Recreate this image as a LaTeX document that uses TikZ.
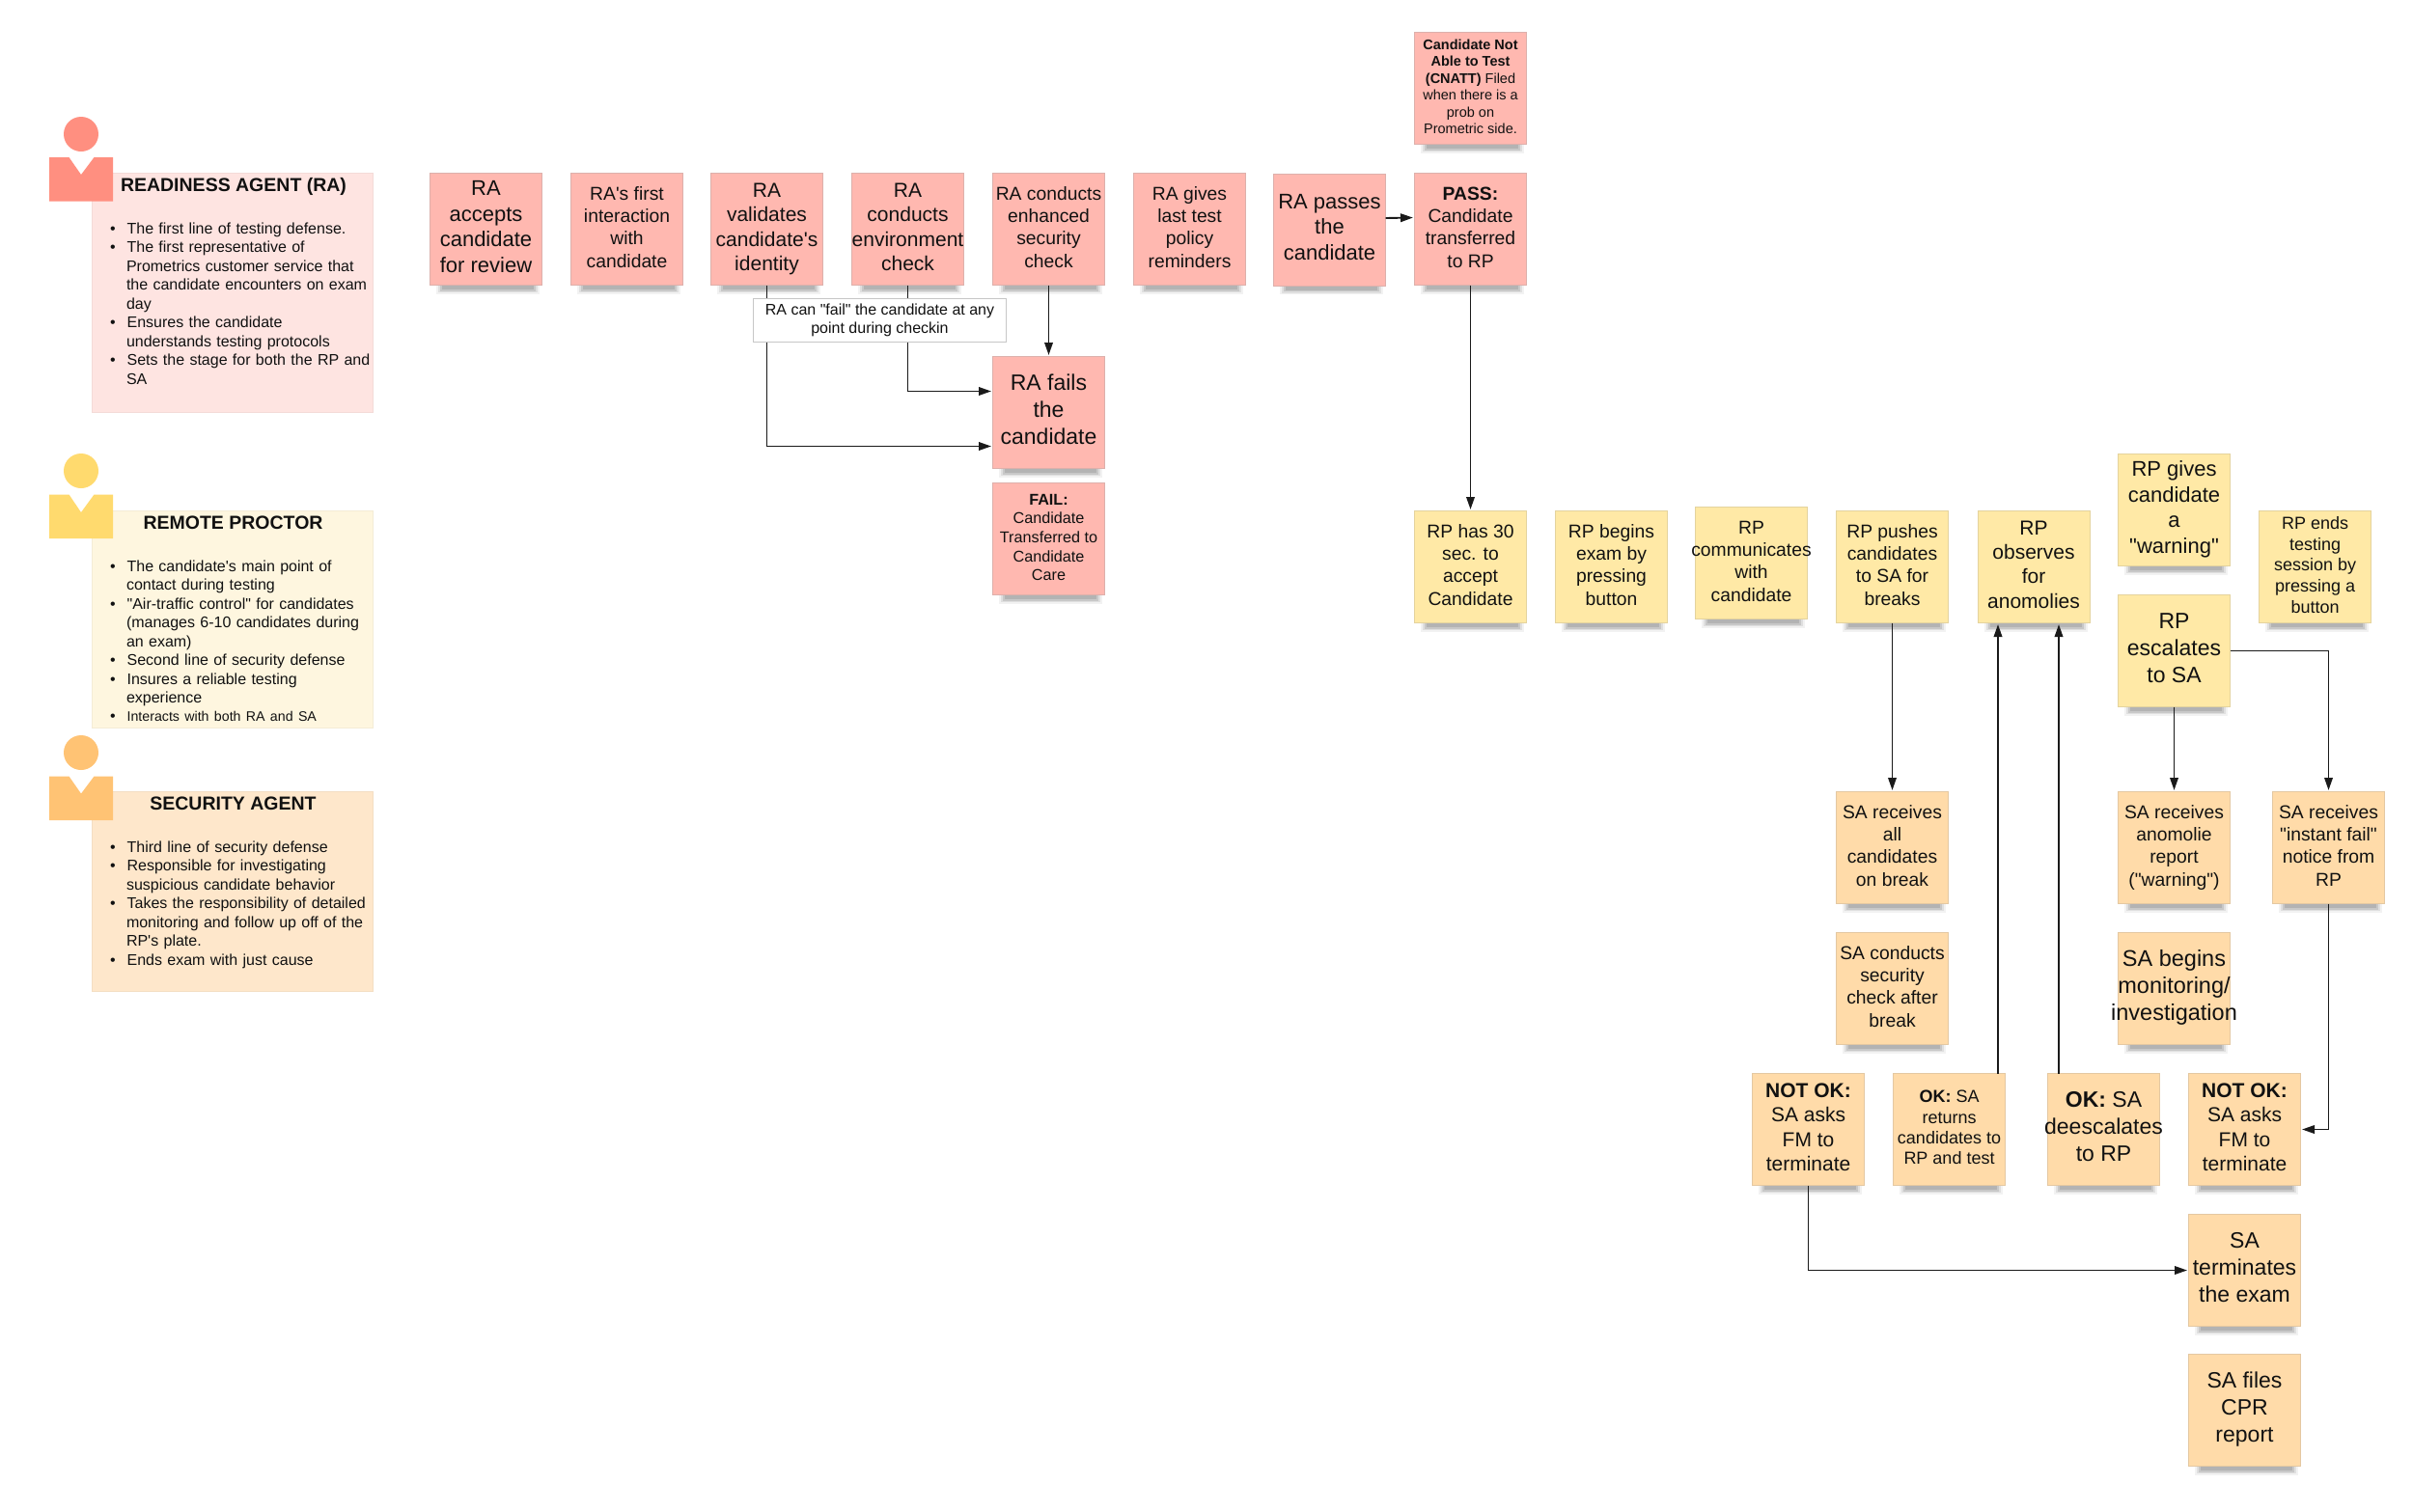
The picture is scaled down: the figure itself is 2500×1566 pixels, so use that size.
\documentclass[tikz,border=0pt]{standalone}
\usepackage{fontspec}
\setmainfont{Liberation Sans}[Ligatures=TeXOff]
\usetikzlibrary{arrows.meta}
\definecolor{redfill}{HTML}{FFB8B0}
\definecolor{redline}{HTML}{DDB0AB}
\definecolor{yelfill}{HTML}{FFE9A6}
\definecolor{yelline}{HTML}{E4D39E}
\definecolor{orafill}{HTML}{FFDBA9}
\definecolor{oraline}{HTML}{E4C8A2}
\definecolor{raicon}{HTML}{FF8F80}
\definecolor{rabox}{HTML}{FEE4E1}
\definecolor{rpicon}{HTML}{FFDA6E}
\definecolor{rpbox}{HTML}{FEF6DF}
\definecolor{saicon}{HTML}{FFC374}
\definecolor{sabox}{HTML}{FEE7CB}
\definecolor{ink}{HTML}{111111}
\definecolor{wire}{HTML}{1A1A1A}
\tikzset{
  stickybox/.style={rectangle,minimum width=116,minimum height=116,inner sep=0,outer sep=0,line width=1pt,text=ink},
  redsticky/.style={stickybox,fill=redfill,draw=redline},
  yelsticky/.style={stickybox,fill=yelfill,draw=yelline},
  orasticky/.style={stickybox,fill=orafill,draw=oraline},
  wirearrow/.style={draw=wire,line width=1.9pt,-{Triangle[length=13pt,width=8.5pt]},shorten >=1.5pt},
  personabox/.style={rectangle,minimum width=291.5,inner sep=0,outer sep=0,line width=.8pt},
  personatitle/.style={inner sep=0,outer sep=0,text=ink,font=\fontsize{19.5}{23}\selectfont\bfseries},
  personalist/.style={anchor=north west,inner sep=0,outer sep=0,text width=272pt,text=ink,font=\fontsize{16}{19.45}\selectfont},
  head/.style={circle,minimum size=36,inner sep=0,outer sep=0},
  notelabel/.style={rectangle,fill=white,draw=black!22,line width=1pt,minimum width=262.5,minimum height=45.5,inner sep=0,outer sep=0,align=center,text=ink,font=\fontsize{16}{19.7}\selectfont},
}
\newenvironment{pbul}{\begin{list}{\textbullet}{\setlength\leftmargin{17pt}\setlength\labelwidth{5pt}\setlength\labelsep{12pt}\setlength\itemsep{0pt}\setlength\parsep{0pt}\setlength\topsep{0pt}\setlength\partopsep{0pt}\setlength\parskip{0pt}\setlength\itemindent{0pt}}\raggedright}{\end{list}}
% name, style, left, top, font size, line spacing, text
\newcommand\sticky[7]{%
  \fill[black,opacity=.05] ({#3+7},{#4+110}) rectangle ({#3+114},{#4+125.5});
  \fill[black,opacity=.08] ({#3+9},{#4+110}) rectangle ({#3+112},{#4+124});
  \fill[black,opacity=.10] ({#3+11},{#4+110}) rectangle ({#3+110},{#4+122.5});
  \fill[black,opacity=.10] ({#3+13},{#4+110}) rectangle ({#3+108},{#4+121});
  \pgfmathsetmacro\stickyraise{2*max(0,(#5-19.3)*0.15)}%
  \node[#2] (#1) at ({#3+58.5},{#4+58.5}) {\fontsize{#5}{#6}\selectfont\raisebox{0pt}[\height][\dimexpr\depth+\stickyraise pt\relax]{\makebox[0pt]{\begin{tabular}{@{}c@{}}#7\end{tabular}}}};
}
\newcommand\bodyicon[3]{% colour, top, notch apex
  \fill[#1] (51,#2) -- (71.5,#2) -- (84,#3) -- (97.5,#2) -- (117,#2) -- (117,{#2+45.5}) -- (51,{#2+45.5}) -- cycle;
}
\begin{document}
\begin{tikzpicture}[x=1pt,y=-1pt]
\useasboundingbox (0,0) rectangle (2500,1566);
\fill[white] (0,0) rectangle (2500,1566);

% personas
\node[personabox,fill=rabox,draw=rabox!96!black,minimum height=248.5] (raBox) at (241,303.5) {};
\node[head,fill=raicon] (raHead) at (84,139) {};
\bodyicon{raicon}{163}{181}
\node[personatitle,anchor=west] (raTitle) at (125,193) {READINESS AGENT (RA)};
\node[personalist] (raList) at (114,223) {\begin{pbul}
\item The first line of testing defense.
\item The first representative of\\Prometrics customer service that\\the candidate encounters on exam\\day
\item Ensures the candidate\\understands testing protocols
\item Sets the stage for both the RP and\\SA
\end{pbul}};

\node[personabox,fill=rpbox,draw=rpbox!96!black,minimum height=225.5] (rpBox) at (241,642) {};
\node[head,fill=rpicon] (rpHead) at (84,488) {};
\bodyicon{rpicon}{512.5}{531}
\node[personatitle] (rpTitle) at (241.5,542) {REMOTE PROCTOR};
\node[personalist] (rpList) at (114,573) {\begin{pbul}
\item The candidate's main point of\\contact during testing
\item "Air-traffic control" for candidates\\(manages 6-10 candidates during\\an exam)
\item Second line of security defense
\item Insures a reliable testing\\experience
\item {\fontsize{14.2}{18.7}\selectfont Interacts with both RA and SA\par}
\end{pbul}};

\node[personabox,fill=sabox,draw=sabox!96!black,minimum height=207.5] (saBox) at (241,924) {};
\node[head,fill=saicon] (saHead) at (84,780) {};
\bodyicon{saicon}{804.5}{822.5}
\node[personatitle] (saTitle) at (241.5,833) {SECURITY AGENT};
\node[personalist] (saList) at (114,864) {\begin{pbul}
\item Third line of security defense
\item Responsible for investigating\\suspicious candidate behavior
\item Takes the responsibility of detailed\\monitoring and follow up off of the\\RP's plate.
\item Ends exam with just cause
\end{pbul}};

% RA row
\sticky{accepts}{redsticky}{445}{179}{22}{26.6}{RA\\accepts\\candidate\\for review}
\sticky{first}{redsticky}{591}{179}{19.3}{23.3}{RA's first\\interaction\\with\\candidate}
\sticky{validates}{redsticky}{736}{179}{21}{25.5}{RA\\validates\\candidate's\\identity}
\sticky{environ}{redsticky}{882}{179}{21}{25.5}{RA\\conducts\\environment\\check}
\sticky{enhanced}{redsticky}{1028}{179}{19.3}{23.3}{RA conducts\\enhanced\\security\\check}
\sticky{policy}{redsticky}{1174}{179}{19.3}{23.3}{RA gives\\last test\\policy\\reminders}
\sticky{passes}{redsticky}{1319}{179.5}{22}{26.3}{RA passes\\the\\candidate}
\sticky{pass}{redsticky}{1465}{179}{19.3}{23.3}{\textbf{PASS:}\\Candidate\\transferred\\to RP}
\sticky{cnatt}{redsticky}{1465}{33}{14.5}{17.5}{\textbf{Candidate Not}\\\textbf{Able to Test}\\\textbf{(CNATT)} Filed\\when there is a\\prob on\\Prometric side.}
\sticky{fails}{redsticky}{1028}{369}{23}{28}{RA fails\\the\\candidate}
\sticky{failnote}{redsticky}{1028}{500}{16.2}{19.6}{\textbf{FAIL:}\\Candidate\\Transferred to\\Candidate\\Care}

% RP row
\sticky{rpaccept}{yelsticky}{1465}{529}{19.3}{23.3}{RP has 30\\sec. to\\accept\\Candidate}
\sticky{rpbegin}{yelsticky}{1611}{529}{19.3}{23.3}{RP begins\\exam by\\pressing\\button}
\sticky{rpcomm}{yelsticky}{1756}{525}{19.3}{23.3}{RP\\communicates\\with\\candidate}
\sticky{rppush}{yelsticky}{1902}{529}{19.3}{23.3}{RP pushes\\candidates\\to SA for\\breaks}
\sticky{rpobs}{yelsticky}{2048.5}{529}{21}{25.3}{RP\\observes\\for\\anomolies}
\sticky{rpwarn}{yelsticky}{2194}{470}{22}{26.6}{RP gives\\candidate\\a\\"warning"}
\sticky{rpesc}{yelsticky}{2194}{616}{23}{28}{RP\\escalates\\to SA}
\sticky{rpend}{yelsticky}{2340}{529}{18}{21.6}{RP ends\\testing\\session by\\pressing a\\button}

% SA
\sticky{saall}{orasticky}{1902}{820}{19.3}{23.3}{SA receives\\all\\candidates\\on break}
\sticky{sacheck}{orasticky}{1902}{966}{19.3}{23.3}{SA conducts\\security\\check after\\break}
\sticky{saanom}{orasticky}{2194}{820}{19.3}{23.3}{SA receives\\anomolie\\report\\("warning")}
\sticky{sainst}{orasticky}{2354}{820}{19.3}{23.3}{SA receives\\"instant fail"\\notice from\\RP}
\sticky{samon}{orasticky}{2194}{966}{23.5}{28}{SA begins\\monitoring/\\investigation}
\sticky{nokl}{orasticky}{1815}{1112}{21}{25.5}{\textbf{NOT OK:}\\SA asks\\FM to\\terminate}
\sticky{okret}{orasticky}{1961}{1112}{18}{21.4}{\textbf{OK:} SA\\returns\\candidates to\\RP and test}
\sticky{okdes}{orasticky}{2121}{1112}{23}{28}{\textbf{OK:} SA\\deescalates\\to RP}
\sticky{nokr}{orasticky}{2267}{1112}{21}{25.5}{\textbf{NOT OK:}\\SA asks\\FM to\\terminate}
\sticky{term}{orasticky}{2267}{1258}{23}{28}{SA\\terminates\\the exam}
\sticky{files}{orasticky}{2267}{1403}{23}{28}{SA files\\CPR\\report}

% connectors
\draw[wirearrow] (validates.south) |- ([yshift=-35pt]fails.west);
\draw[wirearrow] (environ.south) |- ([yshift=22pt]fails.west);
\node[notelabel] (failnotebox) at (911.5,332) {RA can "fail" the candidate at any\\point during checkin};
\draw[wirearrow] (enhanced.south) -- (fails.north);
\draw[wirearrow] ([yshift=12pt]passes.east) -- ([yshift=12pt]pass.west);
\draw[wirearrow] (pass.south) -- (rpaccept.north);
\draw[wirearrow] (rppush.south) -- (saall.north);
\draw[wirearrow] ([xshift=50.5pt]okret.north) -- ([xshift=-37pt]rpobs.south);
\draw[wirearrow] ([xshift=-46.5pt]okdes.north) -- ([xshift=26pt]rpobs.south);
\draw[wirearrow] (rpesc.south) -- (saanom.north);
\draw[wirearrow] (rpesc.east) -| (sainst.north);
\draw[wirearrow] (sainst.south) |- (nokr.east);
\draw[wirearrow] (nokl.south) |- (term.west);
\end{tikzpicture}
\end{document}
